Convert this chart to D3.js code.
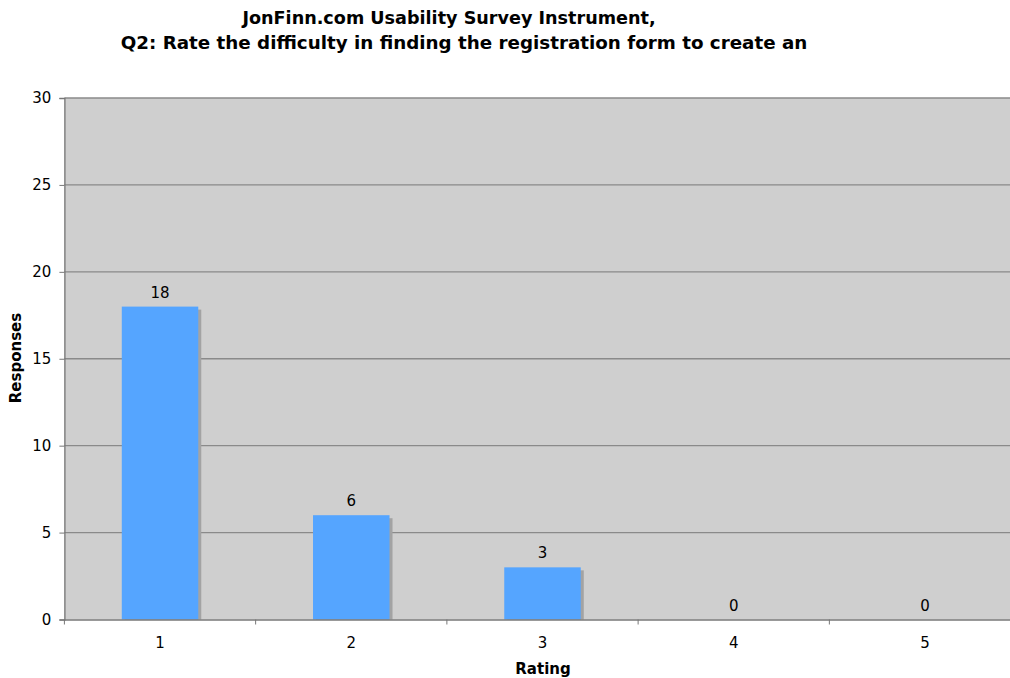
<!DOCTYPE html>
<html><head><meta charset="utf-8">
<script src="https://cdn.jsdelivr.net/npm/d3@7"></script>
<style>body{margin:0;background:#fff}svg{display:block}text{font-family:"DejaVu Sans",Verdana,sans-serif}</style>
</head><body>
<svg id="c" width="1010" height="678"></svg>
<script>
const categories = ["1","2","3","4","5"];
const values = [18, 6, 3, 0, 0];
const yTicks = [0,5,10,15,20,25,30];
const titleLines = ["JonFinn.com Usability Survey Instrument,", "Q2: Rate the difficulty in finding the registration form to create an"];
const xTitle = "Rating", yTitle = "Responses";

const svg = d3.select("#c");
const L = 64.4, R = 1020.6, T = 98, B = 619.5;
const FONT = "DejaVu Sans, Verdana, sans-serif";
const x = d3.scaleBand().domain(categories).range([L, R]).paddingInner(0).paddingOuter(0);
const y = d3.scaleLinear().domain([0, 30]).range([B, T]);

svg.append("rect").attr("x", L).attr("y", T).attr("width", R - L).attr("height", B - T).attr("fill", "#cfcfcf");

// gridlines
svg.append("g").selectAll("line").data(yTicks.filter(d => d > 0)).join("line")
  .attr("x1", L).attr("x2", R).attr("y1", d => y(d)).attr("y2", d => y(d))
  .attr("stroke", "#8a8a8a").attr("stroke-width", 1.3);

// bars with shadows
const bw = x.bandwidth() * 0.4;
const bx = d => x(d) + (x.bandwidth() - bw) / 2;
const data = categories.map((c, i) => ({c, v: values[i]}));
svg.append("g").selectAll("rect").data(data.filter(d => d.v > 0)).join("rect")
  .attr("x", d => bx(d.c) + 3).attr("y", d => y(d.v) + 3)
  .attr("width", bw).attr("height", d => B - y(d.v) - 3).attr("fill", "#a3a3a3");
svg.append("g").selectAll("rect").data(data.filter(d => d.v > 0)).join("rect")
  .attr("x", d => bx(d.c)).attr("y", d => y(d.v))
  .attr("width", bw).attr("height", d => B - y(d.v)).attr("fill", "#55a5ff");

// value labels
svg.append("g").selectAll("text").data(data).join("text")
  .attr("x", d => x(d.c) + x.bandwidth() / 2).attr("y", d => y(d.v) - 9)
  .attr("text-anchor", "middle").attr("font-size", 15).attr("fill", "#000").text(d => d.v);

// axes
const yAxis = d3.axisLeft(y).tickValues(yTicks).tickSize(5).tickPadding(8);
const gy = svg.append("g").attr("transform", `translate(${L},0)`).call(yAxis);
gy.attr("font-size", 15).attr("font-family", FONT);
gy.selectAll("text").attr("fill", "#000");
gy.selectAll("line").attr("stroke", "#777");
gy.select(".domain").attr("stroke", "#777").attr("stroke-width", 1.3);

const xAxis = d3.axisBottom(x).tickSize(0).tickPadding(18);
const gx = svg.append("g").attr("transform", `translate(0,${B})`).call(xAxis);
gx.attr("font-size", 15).attr("font-family", FONT);
gx.selectAll("text").attr("fill", "#000");
gx.select(".domain").attr("stroke", "#777").attr("stroke-width", 1.3);
// category boundary ticks
svg.append("g").selectAll("line").data(categories).join("line")
  .attr("x1", d => x(d)).attr("x2", d => x(d)).attr("y1", B).attr("y2", B + 5)
  .attr("stroke", "#777");

// titles
svg.append("text").attr("x", 449).attr("y", 24).attr("text-anchor", "middle")
  .attr("font-size", 17.6).attr("font-weight", "bold").text(titleLines[0]);
svg.append("text").attr("x", 464).attr("y", 49).attr("text-anchor", "middle")
  .attr("font-size", 18.3).attr("font-weight", "bold").text(titleLines[1]);
svg.append("text").attr("x", 543).attr("y", 674).attr("text-anchor", "middle")
  .attr("font-size", 15).attr("font-weight", "bold").text(xTitle);
svg.append("text").attr("transform", "translate(21,358) rotate(-90)").attr("text-anchor", "middle")
  .attr("font-size", 15).attr("font-weight", "bold").text(yTitle);
</script>
</body></html>
